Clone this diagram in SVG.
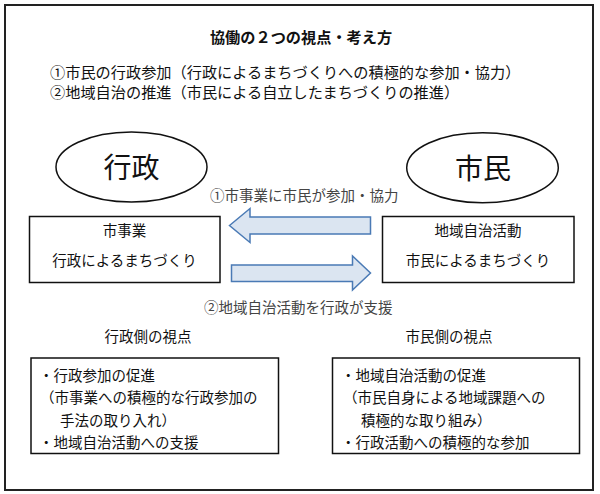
<svg xmlns="http://www.w3.org/2000/svg" width="600" height="494" viewBox="0 0 600 494">
<style>
text{font-family:"Noto Sans CJK JP","Noto Sans CJK SC",sans-serif;fill:#111;}
.t{font-size:15.2px;}
.s{font-size:14.5px;}
.big{font-size:28px;}
.c{text-anchor:middle;}
.lbl{font-size:14.5px;fill:#444;}
.box{fill:#fff;stroke:#111;stroke-width:1.5;}
.ell{fill:#fff;stroke:#111;stroke-width:1.5;}
.arr{fill:#dbe5f1;stroke:#4a7ab5;stroke-width:1.5;stroke-linejoin:miter;}
</style>
<rect x="0" y="0" width="600" height="494" fill="#fff"/>
<rect x="5" y="5" width="588" height="485" fill="none" stroke="#222" stroke-width="2"/>
<g id="header">
<text class="t c" x="301" y="42.5" font-weight="bold">協働の２つの視点・考え方</text>
<text class="t" x="50" y="77.5">①市民の行政参加（行政によるまちづくりへの積極的な参加・協力）</text>
<text class="t" x="50" y="98">②地域自治の推進（市民による自立したまちづくりの推進）</text>
</g>
<g id="gyosei">
<ellipse class="ell" cx="131.5" cy="167" rx="75.5" ry="35"/>
<text class="big c" x="131.5" y="178">行政</text>
</g>
<g id="shimin">
<ellipse class="ell" cx="482.5" cy="167.7" rx="75.8" ry="35"/>
<text class="big c" x="483" y="179">市民</text>
</g>
<g id="shijigyo">
<rect class="box" x="29.5" y="216.5" width="190.5" height="66"/>
<text class="s c" x="124.5" y="236">市事業</text>
<text class="s c" x="124.5" y="265.5">行政によるまちづくり</text>
</g>
<g id="chiiki">
<rect class="box" x="382.5" y="216.5" width="191.5" height="66"/>
<text class="s c" x="478" y="236">地域自治活動</text>
<text class="s c" x="478" y="265.5">市民によるまちづくり</text>
</g>
<g id="connectors">
<polygon class="arr" points="229.5,225.5 250,208.5 250,217 370.5,217 370.5,234 250,234 250,242.5"/>
<polygon class="arr" points="231.5,265 352.5,265 352.5,256 370.5,273 352.5,290 352.5,281.5 231.5,281.5"/>
<text class="lbl" x="210" y="200.5">①市事業に市民が参加・協力</text>
<text class="lbl" x="204" y="312.5">②地域自治活動を行政が支援</text>
</g>
<g id="gyosei-view">
<text class="s c" x="148" y="342">行政側の視点</text>
<rect class="box" x="31" y="358" width="247.5" height="95.5"/>
<text class="s" x="39" y="381">・行政参加の促進</text>
<text class="s" x="40" y="402.5">（市事業への積極的な行政参加の</text>
<text class="s" x="60" y="425.5">手法の取り入れ）</text>
<text class="s" x="39" y="447.5">・地域自治活動への支援</text>
</g>
<g id="shimin-view">
<text class="s c" x="449" y="342">市民側の視点</text>
<rect class="box" x="332.5" y="358" width="247" height="95.5"/>
<text class="s" x="341" y="381">・地域自治活動の促進</text>
<text class="s" x="343" y="402.5">（市民自身による地域課題への</text>
<text class="s" x="361" y="425.5">積極的な取り組み）</text>
<text class="s" x="341" y="447.5">・行政活動への積極的な参加</text>
</g>
</svg>
